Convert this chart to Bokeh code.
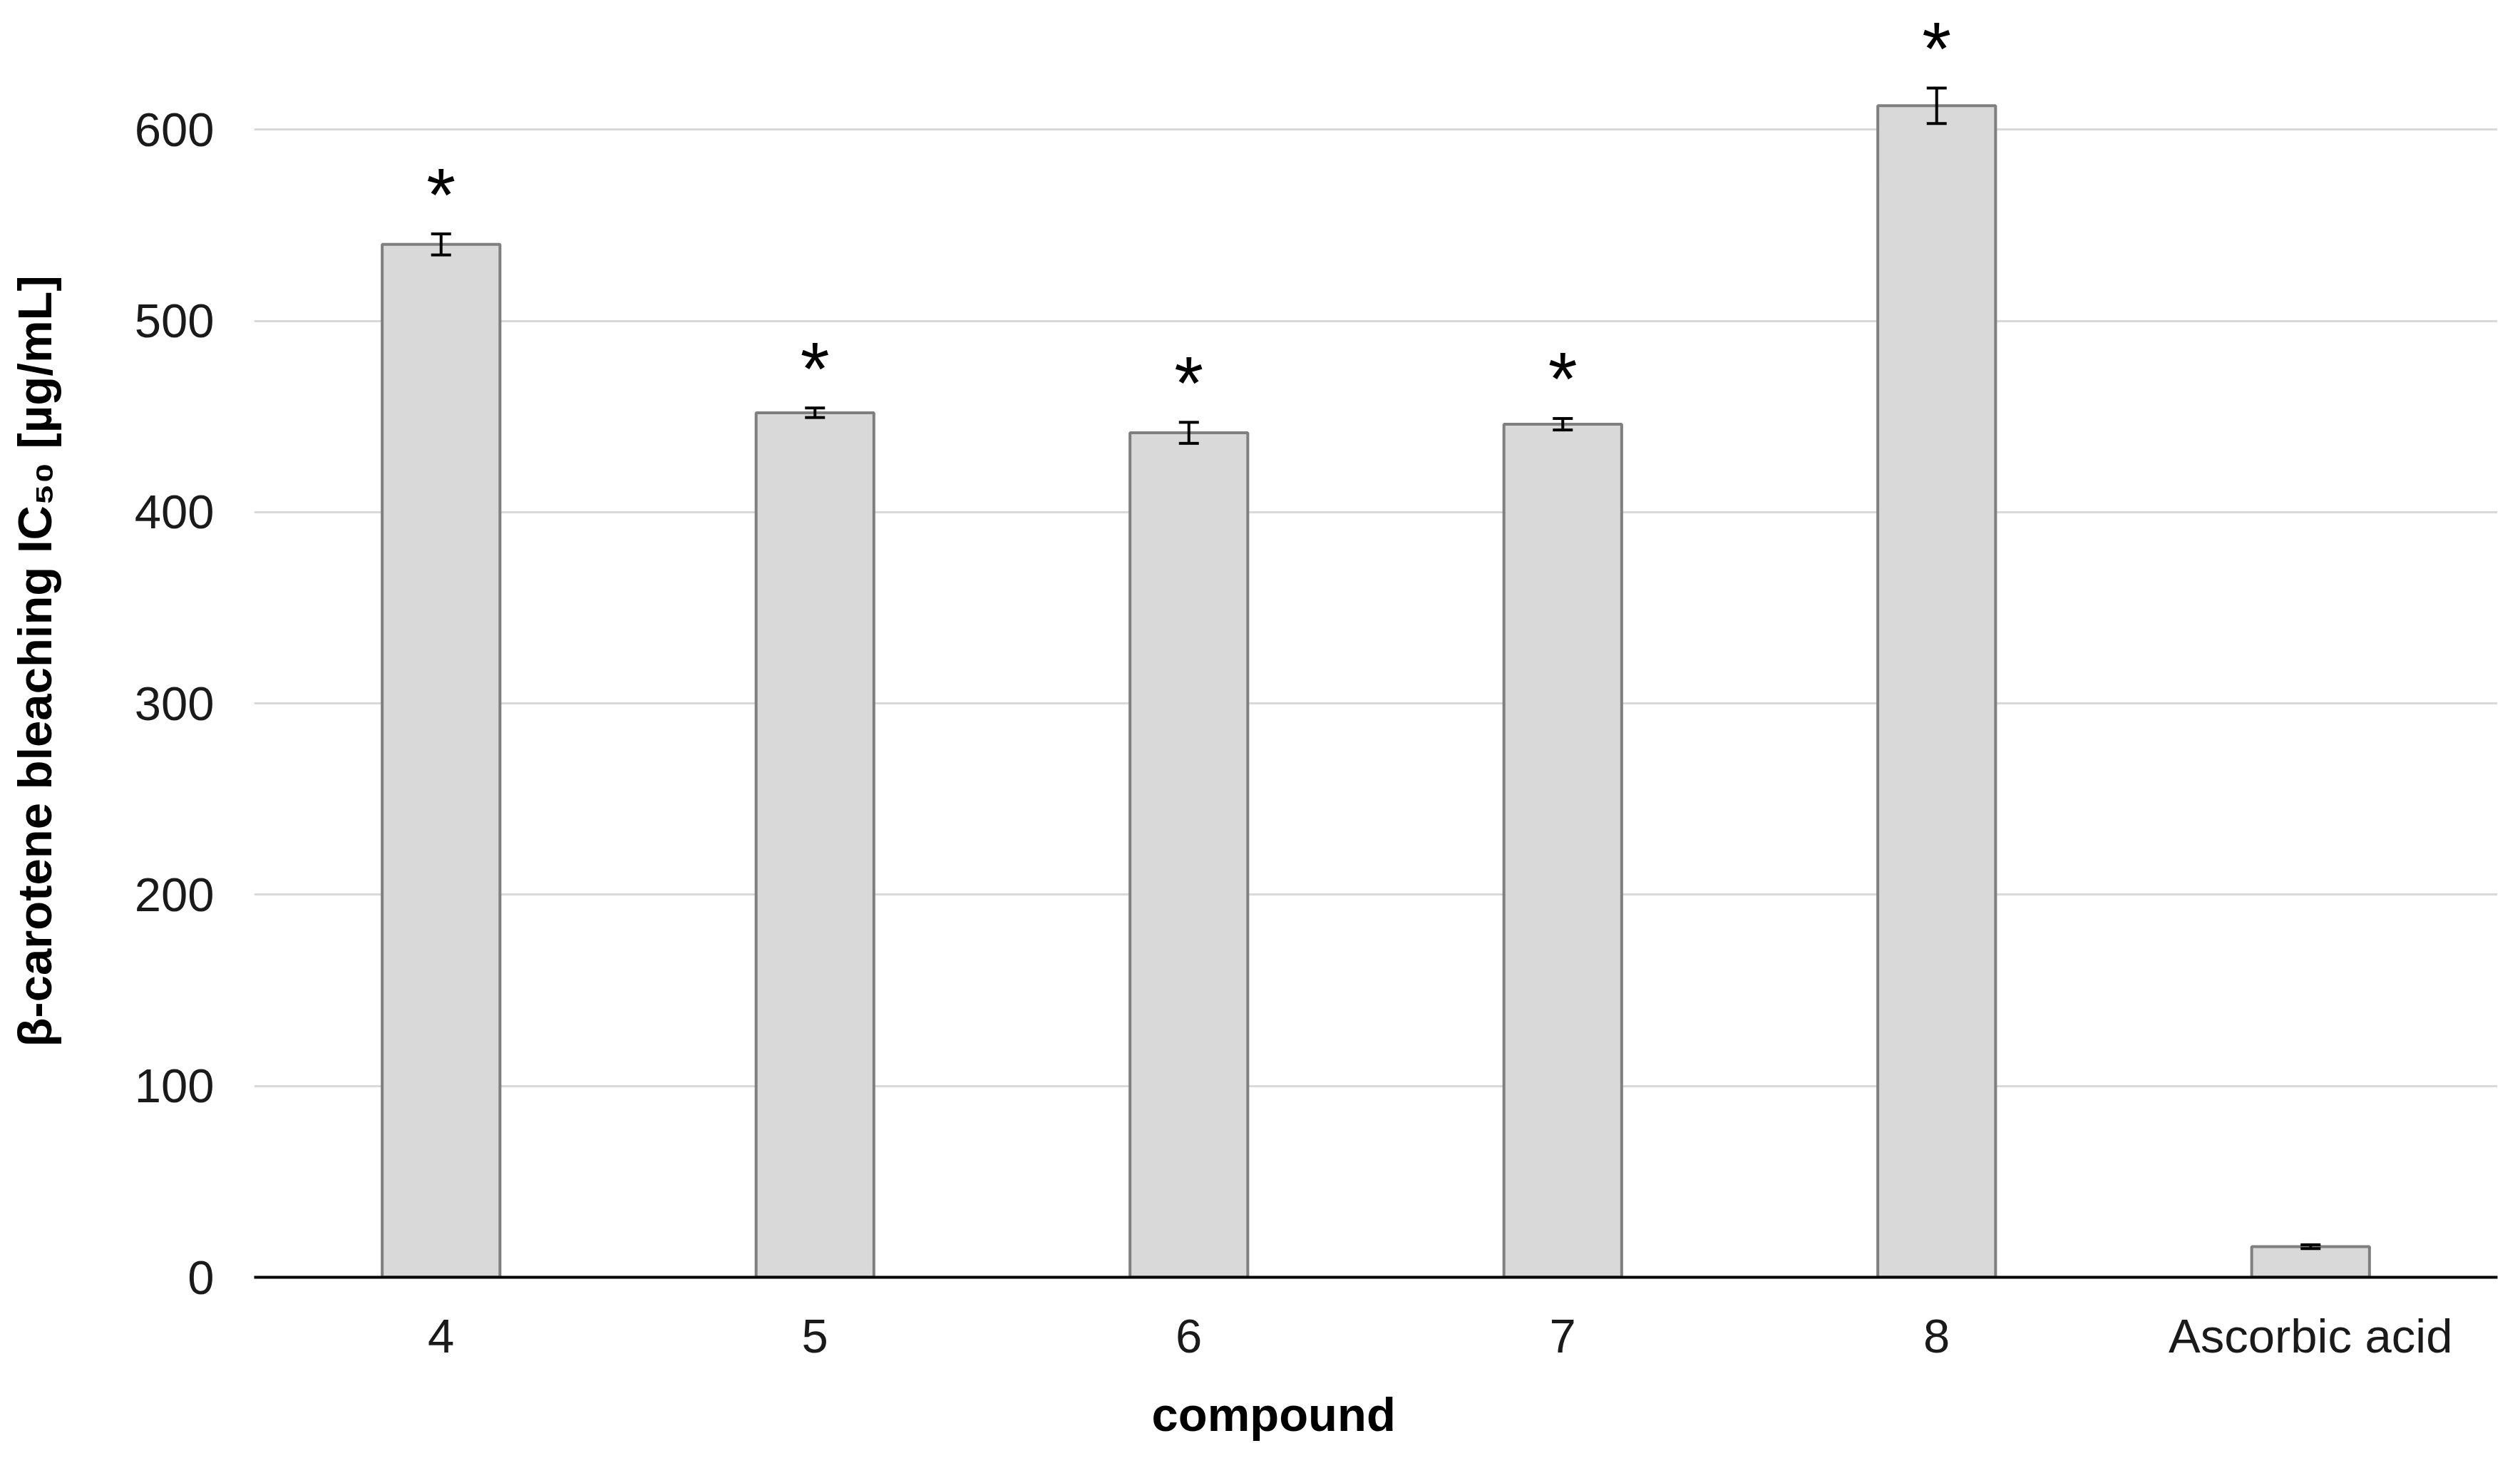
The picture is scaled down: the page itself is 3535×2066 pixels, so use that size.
from bokeh.plotting import figure
from bokeh.models import ColumnDataSource, Whisker, TeeHead, FixedTicker, FactorRange, Range1d, Title
from bokeh.core.properties import value
from bokeh.embed import file_html
from bokeh.resources import INLINE

# ---- data ----
compounds = ["4", "5", "6", "7", "8", "Ascorbic acid"]
ic50 = [540.0, 452.0, 441.5, 446.0, 612.5, 16.0]
ic50_err = [5.5, 2.5, 5.5, 3.0, 9.3, 1.0]
significant = ["*", "*", "*", "*", "*", ""]
y_ticks = [0, 100, 200, 300, 400, 500, 600]
x_label = "compound"
y_label = "β-carotene bleaching IC₅₀ [µg/mL]"

FONT = "Liberation Sans"

src = ColumnDataSource(dict(
    x=compounds,
    top=ic50,
    upper=[v + e for v, e in zip(ic50, ic50_err)],
    lower=[v - e for v, e in zip(ic50, ic50_err)],
    star=significant,
))

p = figure(
    width=3519, height=2050,
    x_range=FactorRange(*compounds, range_padding=0),
    y_range=Range1d(0, 665),
    output_backend="svg", toolbar_location=None,
    min_border_left=356, min_border_right=16, min_border_top=7, min_border_bottom=255,
)
p.outline_line_color = None
p.background_fill_color = "white"
p.border_fill_color = "white"

p.vbar(x="x", top="top", width=0.315, bottom=0, source=src,
       fill_color="#d9d9d9", line_color="#7f7f7f", line_width=4)

w = Whisker(base="x", upper="upper", lower="lower", source=src, dimension="height",
            line_color="black", line_width=4, level="overlay",
            upper_head=TeeHead(size=28, line_color="black", line_width=4),
            lower_head=TeeHead(size=28, line_color="black", line_width=4))
p.add_layout(w)

p.text(x="x", y="upper", text="star", source=src,
       text_font=value(FONT), text_font_size="105px", text_color="black",
       text_align="center", text_baseline="alphabetic", y_offset=-55)

# grid
p.xgrid.grid_line_color = None
p.ygrid.grid_line_color = "#d9d9d9"
p.ygrid.grid_line_width = 3
p.yaxis.ticker = FixedTicker(ticks=y_ticks)

# y axis
yax = p.yaxis[0]
yax.axis_line_color = None
yax.major_tick_line_color = None
yax.minor_tick_line_color = None
yax.major_label_text_font = FONT
yax.major_label_text_font_size = "67px"
yax.major_label_text_color = "#1a1a1a"
yax.major_label_standoff = 50
yax.axis_label = y_label + "\u00a0\u00a0\u00a0"
yax.axis_label_text_font = FONT
yax.axis_label_text_font_style = "bold"
yax.axis_label_text_font_size = "67px"
yax.axis_label_text_color = "black"
yax.axis_label_standoff = 100

# x axis
xax = p.xaxis[0]
xax.axis_line_color = "black"
xax.axis_line_width = 4
xax.major_tick_line_color = None
xax.minor_tick_line_color = None
xax.major_label_text_font = FONT
xax.major_label_text_font_size = "67px"
xax.major_label_text_color = "#1a1a1a"
xax.major_label_standoff = 38

# x-axis title, placed left of the frame centre as in the reference
xt = Title(text=x_label, align="left", offset=1259, standoff=60,
           text_font=FONT, text_font_size="67px", text_font_style="bold",
           text_color="black")
p.add_layout(xt, "below")

open("out.html", "w").write(file_html(p, INLINE))
